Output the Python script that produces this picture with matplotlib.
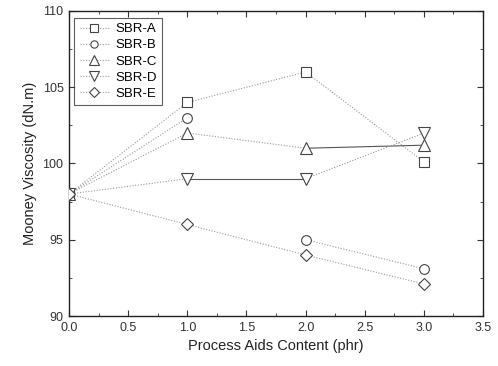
import matplotlib
matplotlib.use("Agg")
import matplotlib.pyplot as plt
from matplotlib.ticker import MultipleLocator, FormatStrFormatter

plt.rcParams['font.family'] = ['Liberation Sans', 'DejaVu Sans']

x = [0.0, 1.0, 2.0, 3.0]
series = {
    "SBR-A": [98, 104, 106, 100.1],
    "SBR-B": [98, 103, 95, 93.1],
    "SBR-C": [98, 102, 101, 101.2],
    "SBR-D": [98, 99, 99, 102],
    "SBR-E": [98, 96, 94, 92.1],
}
markers = {"SBR-A": "s", "SBR-B": "o", "SBR-C": "^", "SBR-D": "v", "SBR-E": "D"}
msizes = {"SBR-A": 7, "SBR-B": 7, "SBR-C": 9, "SBR-D": 9, "SBR-E": 6.5}
# connecting segments visible in the original, per series: (start index, end index, solid?)
segments = {
    "SBR-A": [(0, 1, False), (1, 2, False), (2, 3, False)],
    "SBR-B": [(0, 1, False), (2, 3, False)],
    "SBR-C": [(0, 1, False), (1, 2, False), (2, 3, True)],
    "SBR-D": [(0, 1, False), (1, 2, True), (2, 3, False)],
    "SBR-E": [(0, 1, False), (1, 2, False), (2, 3, False)],
}

fig = plt.figure(figsize=(4.98, 3.66), dpi=100)
ax = fig.add_axes([0.1386, 0.1366, 0.8314, 0.8334])

dotted = (0, (1, 1.5))
for name, vals in series.items():
    for i, j, solid in segments[name]:
        ax.plot(x[i:j + 1], vals[i:j + 1],
                linestyle='-' if solid else dotted,
                color='#555555' if solid else '#999999',
                linewidth=0.8, zorder=2)
    ax.plot(x, vals, linestyle='none',
            marker=markers[name], markersize=msizes[name], markerfacecolor='white',
            markeredgecolor='#444444', markeredgewidth=0.8, zorder=3)
    # legend handle
    ax.plot([], [], linestyle=dotted, color='#999999', linewidth=0.8,
            marker=markers[name], markersize=msizes[name] * 0.75, markerfacecolor='white',
            markeredgecolor='#444444', markeredgewidth=0.8, label=name)

ax.set_xlim(0, 3.5)
ax.set_ylim(90, 110)
ax.xaxis.set_major_locator(MultipleLocator(0.5))
ax.xaxis.set_minor_locator(MultipleLocator(0.25))
ax.yaxis.set_major_locator(MultipleLocator(5))
ax.yaxis.set_minor_locator(MultipleLocator(2.5))
ax.tick_params(which='both', direction='in', top=True, right=True, labelsize=9,
               colors='#333333', pad=4)
ax.tick_params(which='major', length=4)
ax.tick_params(which='minor', length=2)
ax.xaxis.set_major_formatter(FormatStrFormatter('%.1f'))
for s in ax.spines.values():
    s.set_linewidth(1.0)
    s.set_color('#222222')

ax.set_xlabel("Process Aids Content (phr)", fontsize=10.5, color='#222222')
ax.set_ylabel("Mooney Viscosity (dN.m)", fontsize=10.5, color='#222222')

leg = ax.legend(loc='upper left', fontsize=9.5, frameon=True, fancybox=False,
                edgecolor='#333333', borderpad=0.4, labelspacing=0.3,
                handlelength=2.2, handletextpad=0.5, bbox_to_anchor=(0.0, 0.995),
                borderaxespad=0.4)
leg.get_frame().set_linewidth(0.8)

fig.savefig("out.png", dpi=100, facecolor='white')
